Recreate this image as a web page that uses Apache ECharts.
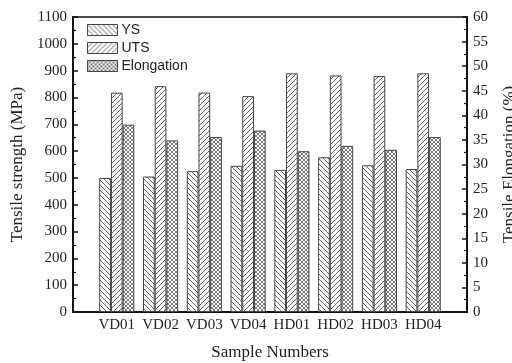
<!DOCTYPE html>
<html><head><meta charset="utf-8">
<script src="https://cdn.jsdelivr.net/npm/echarts@6/dist/echarts.min.js"></script>
<style>html,body{margin:0;padding:0;background:#fff}#c{width:512px;height:363px}</style>
</head><body><div id="c"></div>
<script>
const categories = ['VD01','VD02','VD03','VD04','HD01','HD02','HD03','HD04'];
const ysValues = [500, 505, 525, 545, 530, 577, 547, 533];
const utsValues = [818, 842, 818, 805, 890, 882, 880, 890];
const elongValues = [38.1, 34.9, 35.6, 36.9, 32.7, 33.8, 33.0, 35.6];
const leftTicks = {min: 0, max: 1100, interval: 100};
const rightTicks = {min: 0, max: 60, interval: 5};

function hatch(size, dirs, color, lw) {
  const c = document.createElement('canvas');
  c.width = size; c.height = size;
  const g = c.getContext('2d');
  g.fillStyle = '#fff'; g.fillRect(0,0,size,size);
  g.strokeStyle = color; g.lineWidth = lw;
  dirs.forEach(d => {
    g.beginPath();
    if (d === 'back') {
      g.moveTo(-1,-1); g.lineTo(size+1,size+1);
      g.moveTo(size-1,-1); g.lineTo(size+1,1);
      g.moveTo(-1,size-1); g.lineTo(1,size+1);
    } else {
      g.moveTo(-1,size+1); g.lineTo(size+1,-1);
      g.moveTo(-1,1); g.lineTo(1,-1);
      g.moveTo(size-1,size+1); g.lineTo(size+1,size-1);
    }
    g.stroke();
  });
  return {image: c, repeat: 'repeat'};
}
const pBack = hatch(5, ['back'], '#555', 0.9);
const pFwd = hatch(5, ['fwd'], '#555', 0.9);
const pCross = hatch(4, ['back','fwd'], '#555', 0.8);

const axisCats = [''].concat(categories, ['']);
const pad = a => [null].concat(a, [null]);
const serif = 'Liberation Serif';
const chart = echarts.init(document.getElementById('c'));
const barStyle = (p) => ({color: p, borderColor: '#444', borderWidth: 1});
const plain = v => String(v);
chart.setOption({
  animation: false,
  backgroundColor: '#fff',
  grid: {left: 73, right: 45, top: 17, bottom: 51, containLabel: false, outerBoundsMode: 'none',
         show: true, borderColor: '#111', borderWidth: 1.5, backgroundColor: 'transparent'},
  legend: {
    orient: 'vertical', left: 82, top: 18, itemWidth: 30, itemHeight: 11, itemGap: 4,
    icon: 'rect',
    itemStyle: {borderColor: '#444', borderWidth: 1},
    textStyle: {fontFamily: 'Liberation Sans', fontSize: 14, color: '#222', padding: [0,0,0,-1]},
    data: ['YS','UTS','Elongation']
  },
  xAxis: {
    type: 'category', data: axisCats, boundaryGap: false,
    axisLine: {lineStyle: {color: '#111', width: 2}},
    axisTick: {show: false},
    axisLabel: {fontFamily: serif, fontSize: 15, color: '#222', margin: 6, interval: 0},
    name: 'Sample Numbers', nameLocation: 'middle', nameGap: 32,
    nameTextStyle: {fontFamily: serif, fontSize: 17, color: '#222'}
  },
  yAxis: [{
    type: 'value', min: leftTicks.min, max: leftTicks.max, interval: leftTicks.interval,
    axisLine: {show: true, lineStyle: {color: '#111', width: 2}},
    axisTick: {show: true, inside: true, length: 5, lineStyle: {color: '#111', width: 1.5}},
    minorTick: {show: true, splitNumber: 2, length: 3, lineStyle: {color: '#111', width: 1.2}},
    splitLine: {show: false},
    axisLabel: {fontFamily: serif, fontSize: 15, color: '#222', margin: 6, formatter: plain},
    name: 'Tensile strength (MPa)', nameLocation: 'middle', nameGap: 44,
    nameTextStyle: {fontFamily: serif, fontSize: 17, color: '#222'}
  }, {
    type: 'value', min: rightTicks.min, max: rightTicks.max, interval: rightTicks.interval,
    axisLine: {show: true, lineStyle: {color: '#111', width: 2}},
    axisTick: {show: true, inside: true, length: 5, lineStyle: {color: '#111', width: 1.5}},
    minorTick: {show: true, splitNumber: 2, length: 3, lineStyle: {color: '#111', width: 1.2}},
    splitLine: {show: false},
    axisLabel: {fontFamily: serif, fontSize: 15, color: '#222', margin: 6, formatter: plain},
    name: 'Tensile Elongation (%)', nameLocation: 'middle', nameGap: 34,
    nameTextStyle: {fontFamily: serif, fontSize: 17, color: '#222'}
  }],
  series: [
    {name: 'YS', type: 'bar', yAxisIndex: 0, data: pad(ysValues), barWidth: 11.7, barGap: '0%', itemStyle: barStyle(pBack)},
    {name: 'UTS', type: 'bar', yAxisIndex: 0, data: pad(utsValues), barWidth: 11.7, barGap: '0%', itemStyle: barStyle(pFwd)},
    {name: 'Elongation', type: 'bar', yAxisIndex: 1, data: pad(elongValues), barWidth: 11.7, barGap: '0%', itemStyle: barStyle(pCross)}
  ]
});
</script></body></html>
